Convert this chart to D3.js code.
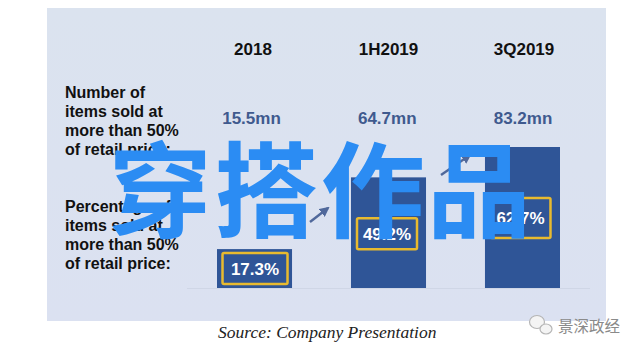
<!DOCTYPE html>
<html>
<head>
<meta charset="utf-8">
<script src="https://cdnjs.cloudflare.com/ajax/libs/d3/7.8.5/d3.min.js"></script>
<style>
html, body { margin: 0; padding: 0; background: #fff; }
text { font-family: "Liberation Sans", Arial, sans-serif; }
</style>
</head>
<body>
<div id="chart"></div>
<script>
var periods = ["2018", "1H2019", "3Q2019"];
var itemsSold = ["15.5mn", "64.7mn", "83.2mn"];
var percentSold = [17.3, 49.2, 62.7];
var percentLabels = ["17.3%", "49.2%", "62.7%"];
var topLabel = ["Number of", "items sold at", "more than 50%", "of retail price:"];
var bottomLabel = ["Percentage of", "items sold at", "more than 50%", "of retail price:"];
var watermark = ["穿", "搭", "作", "品"];

var width = 640, height = 354;

var vis = d3.select("#chart")
  .append("svg")
    .attr("width", width)
    .attr("height", height)
    .style("display", "block");

var defs = vis.append("defs");
var grad = defs.append("linearGradient")
    .attr("id", "panelFill")
    .attr("x1", 0).attr("y1", 0).attr("x2", 0).attr("y2", 1);
grad.append("stop").attr("offset", "0%").attr("stop-color", "#dbe3ef");
grad.append("stop").attr("offset", "100%").attr("stop-color", "#dbe1f1");

defs.append("marker")
    .attr("id", "arrowHead")
    .attr("viewBox", "0 0 10 10")
    .attr("refX", 8).attr("refY", 5)
    .attr("markerWidth", 4.2).attr("markerHeight", 4.2)
    .attr("orient", "auto")
  .append("path")
    .attr("d", "M0,0L10,5L0,10Z")
    .attr("fill", "#50689b");

// panel
vis.append("rect")
    .attr("x", 47).attr("y", 8)
    .attr("width", 559).attr("height", 313)
    .attr("fill", "url(#panelFill)");

var x = d3.scaleBand()
    .domain(periods)
    .range([217, 560])
    .paddingInner(0.44)
    .paddingOuter(0);

// column texts are spaced a bit wider than the bars
var headX = d3.scalePoint().domain(periods).range([253, 524]);
var valueX = d3.scalePoint().domain(periods).range([251.5, 523]);

// bars: 2.25px per percentage point
var y = d3.scaleLinear()
    .domain([0, 62.7])
    .range([288, 147]);

// baseline
vis.append("line")
    .attr("x1", 187).attr("x2", 590)
    .attr("y1", 288.5).attr("y2", 288.5)
    .attr("stroke", "#cfd6e6");

var col = vis.selectAll("g.col")
    .data(periods)
    .enter()
    .append("g")
      .attr("class", "col");

col.append("rect")
    .attr("x", function(d) { return x(d); })
    .attr("y", function(d, i) { return y(percentSold[i]); })
    .attr("width", x.bandwidth())
    .attr("height", function(d, i) { return y(0) - y(percentSold[i]); })
    .attr("fill", "#2f5597");

col.append("text")
    .attr("x", function(d) { return headX(d); })
    .attr("y", 55)
    .attr("text-anchor", "middle")
    .attr("font-size", 17)
    .attr("font-weight", "bold")
    .attr("fill", "#111")
    .text(function(d) { return d; });

col.append("text")
    .attr("x", function(d) { return valueX(d); })
    .attr("y", 124)
    .attr("text-anchor", "middle")
    .attr("font-size", 17)
    .attr("font-weight", "bold")
    .attr("fill", "#3f5a8e")
    .text(function(d, i) { return itemsSold[i]; });

// the yellow boxes are not the same size in the source slide
var boxW = function(i) { return i == 0 ? 65 : 60; };
var boxH = function(i) { return i == 0 ? 31 : (i == 1 ? 31 : 40); };
var boxTop = function(i) { return y(percentSold[i]) + (i == 0 ? 4 : (i == 1 ? 41 : 51)); };
var boxMid = function(d, i) { return x(d) + x.bandwidth() / 2 - (i == 0 ? -0.5 : (i == 1 ? 1.5 : 2)); };

col.append("rect")
    .attr("x", function(d, i) { return boxMid(d, i) - boxW(i) / 2; })
    .attr("y", function(d, i) { return boxTop(i); })
    .attr("width", function(d, i) { return boxW(i); })
    .attr("height", function(d, i) { return boxH(i); })
    .attr("rx", 1.5)
    .attr("fill", "none")
    .attr("stroke", "#e8ba2f")
    .attr("stroke-width", 2.5);

col.append("text")
    .attr("x", function(d, i) { return boxMid(d, i); })
    .attr("y", function(d, i) { return boxTop(i) + boxH(i) / 2 + 6; })
    .attr("text-anchor", "middle")
    .attr("font-size", 17)
    .attr("font-weight", "bold")
    .attr("fill", "#fff")
    .text(function(d, i) { return percentLabels[i]; });

// growth arrows between the bars
d3.pairs(d3.range(periods.length)).forEach(function(p) {
  var gapMid = (x(periods[p[0]]) + x.bandwidth() + x(periods[p[1]])) / 2;
  var first = p[0] == 0;
  var yMid = first ? 215 : 165;
  var dx = first ? 9 : 14.5, dy = first ? 7 : 10;
  vis.append("line")
      .attr("x1", gapMid - dx - (first ? 2.5 : 0)).attr("y1", yMid + dy)
      .attr("x2", gapMid + dx - (first ? 2.5 : 0)).attr("y2", yMid - dy)
      .attr("stroke", "#50689b")
      .attr("stroke-width", 2.4)
      .attr("marker-end", "url(#arrowHead)");
});

// row labels
[[topLabel, 98], [bottomLabel, 212]].forEach(function(block) {
  vis.append("g").selectAll("text")
      .data(block[0])
      .enter()
      .append("text")
        .attr("x", 65)
        .attr("y", function(d, i) { return block[1] + i * 19; })
        .attr("font-size", 16)
        .attr("font-weight", "bold")
        .attr("fill", "#111")
        .text(function(d) { return d; });
});

// source
vis.append("text")
    .attr("x", 218).attr("y", 338)
    .style("font-family", "'Liberation Serif', serif")
    .attr("font-style", "italic")
    .attr("font-size", 17.5)
    .attr("fill", "#222")
    .text("Source: Company Presentation");

// wechat mark
var wechat = vis.append("g").attr("fill", "#f4f4f4").attr("stroke", "#b5b5b5").attr("stroke-width", 1.2);
wechat.append("ellipse").attr("cx", 537).attr("cy", 322).attr("rx", 7.5).attr("ry", 6.5);
wechat.append("ellipse").attr("cx", 546).attr("cy", 329).attr("rx", 6).attr("ry", 5);

vis.append("text")
    .attr("x", 558).attr("y", 332)
    .style("font-family", "'Noto Sans CJK SC', sans-serif")
    .attr("font-size", 15.5)
    .attr("fill", "#8a8a8a")
    .text("景深政经");

// big watermark across the chart
var wmX = d3.scalePoint()
    .domain(watermark)
    .range([160, 479]);

vis.append("g").selectAll("text")
    .data(watermark)
    .enter()
    .append("text")
      .attr("x", function(d) { return wmX(d); })
      .attr("y", 230)
      .attr("text-anchor", "middle")
      .style("font-family", "'Noto Sans CJK SC', sans-serif")
      .attr("font-size", 104)
      .attr("font-weight", "bold")
      .attr("fill", "#2b8cf3")
      .text(function(d) { return d; });
</script>
</body>
</html>
